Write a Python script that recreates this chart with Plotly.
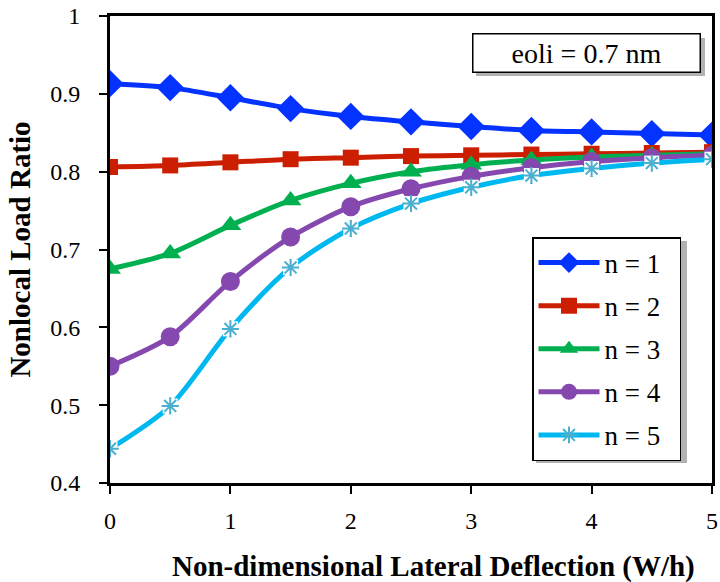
import plotly.graph_objects as go

x = [0, 0.5, 1, 1.5, 2, 2.5, 3, 3.5, 4, 4.5, 5]
n1 = [0.913, 0.908, 0.895, 0.881, 0.871, 0.864, 0.858, 0.853, 0.851, 0.849, 0.847]
n2 = [0.806, 0.808, 0.812, 0.816, 0.818, 0.820, 0.821, 0.822, 0.823, 0.824, 0.825]
n3 = [0.675, 0.695, 0.731, 0.763, 0.785, 0.800, 0.809, 0.815, 0.819, 0.821, 0.823]
n4 = [0.550, 0.588, 0.659, 0.716, 0.755, 0.778, 0.794, 0.805, 0.813, 0.818, 0.821]
n5 = [0.444, 0.499, 0.598, 0.677, 0.727, 0.759, 0.780, 0.795, 0.804, 0.811, 0.816]
names = ["n = 1", "n = 2", "n = 3", "n = 4", "n = 5"]

FONT = "Liberation Serif, Times New Roman, serif"
fig = go.Figure()

specs = [
    (n1, "#0433FF", "diamond", 21),
    (n2, "#CC1E00", "square", 16),
    (n3, "#00B050", "triangle-up", 19),
    (n4, "#8548AE", "circle", 19),
]
for i, (ys, col, sym, sz) in enumerate(specs):
    fig.add_trace(go.Scatter(
        x=x, y=ys, name=names[i] + "\u00a0\u00a0", mode="lines+markers",
        line=dict(color=col, width=5, shape="spline", smoothing=0.8),
        marker=dict(symbol=sym, size=sz, color=col),
        legendgroup=names[i],
    ))

fig.add_trace(go.Scatter(
    x=x, y=n5, name=names[4] + "\u00a0\u00a0", mode="lines+markers",
    line=dict(color="#00B8F0", width=5, shape="spline", smoothing=0.8),
    marker=dict(symbol="asterisk-open", size=14, color="#4BAFCF",
                line=dict(color="#4BAFCF", width=2)),
    legendgroup=names[4],
))
fig.add_trace(go.Scatter(
    x=x, y=n5, mode="markers", showlegend=False, hoverinfo="skip",
    marker=dict(symbol="square", size=15, color="white"),
))
fig.add_trace(go.Scatter(
    x=x, y=n5, mode="markers", showlegend=False,
    marker=dict(symbol="asterisk-open", size=14, color="#4BAFCF",
                line=dict(color="#4BAFCF", width=2)),
))

def px_x(p):
    return (p - 110) / 602

def px_y(p):
    return (483 - p) / 467

# soft shadows for legend and annotation boxes
fig.add_shape(type="rect", xref="paper", yref="paper",
              x0=px_x(536), x1=px_x(687), y0=px_y(463), y1=px_y(241),
              fillcolor="rgba(0,0,0,0.3)", line=dict(width=0), layer="above")
fig.add_shape(type="rect", xref="paper", yref="paper",
              x0=px_x(476), x1=px_x(705), y0=px_y(76), y1=px_y(38),
              fillcolor="rgba(0,0,0,0.3)", line=dict(width=0), layer="above")

fig.add_annotation(
    text="eoli = 0.7 nm", xref="paper", yref="paper",
    x=px_x(586), y=px_y(52.5), xanchor="center", yanchor="middle",
    showarrow=False,
    font=dict(family=FONT, size=28, color="black"),
    bgcolor="white", bordercolor="black", borderwidth=1.5,
    borderpad=4, width=218, height=29,
)
fig.add_annotation(
    text="<b>Non-dimensional Lateral Deflection (W/h)</b>", xref="paper", yref="paper",
    x=px_x(433), y=px_y(566), xanchor="center", yanchor="middle",
    showarrow=False,
    font=dict(family=FONT, size=29, color="black"),
)

axis_common = dict(
    showline=True, linecolor="black", linewidth=3, mirror=True,
    ticks="outside", ticklen=8, tickwidth=2, tickcolor="black",
    showgrid=False, zeroline=False, automargin=False,
    tickfont=dict(family=FONT, size=24, color="black"),
)
fig.update_xaxes(range=[0, 5], tickvals=[0, 1, 2, 3, 4, 5],
                 ticklabelstandoff=6,
                 **axis_common)
fig.update_yaxes(range=[0.4, 1.0], tickvals=[0.4, 0.5, 0.6, 0.7, 0.8, 0.9, 1.0],
                 ticktext=["0.4", "0.5", "0.6", "0.7", "0.8", "0.9", "1"],
                 ticklabelstandoff=14,
                 title=dict(text="<b>Nonlocal Load Ratio</b>",
                            font=dict(family=FONT, size=29, color="black"),
                            standoff=12),
                 **axis_common)

fig.update_layout(
    width=720, height=582,
    margin=dict(l=110, r=8, t=16, b=99),
    paper_bgcolor="white", plot_bgcolor="white",
    legend=dict(
        x=px_x(532), y=px_y(237), xanchor="left", yanchor="top",
        bgcolor="white", bordercolor="black", borderwidth=1.5,
        font=dict(family=FONT, size=27, color="black"),
        tracegroupgap=5, itemwidth=61,
    ),
    showlegend=True,
)

fig.write_html("out.html")
